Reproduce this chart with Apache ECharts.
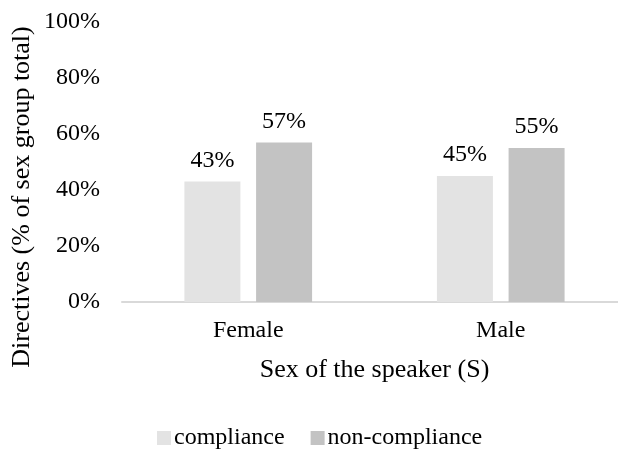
<!DOCTYPE html>
<html>
<head>
<meta charset="utf-8">
<script src="https://cdn.jsdelivr.net/npm/echarts@6/dist/echarts.min.js"></script>
<style>
  html, body { margin: 0; padding: 0; background: #fff; overflow: hidden; }
  #chart { width: 628px; height: 450px; }
</style>
</head>
<body>
<div id="chart"></div>
<script>
const categories = ['Female', 'Male'];
const compliance = [43, 45];
const nonCompliance = [57, 55];
const yTicks = [0, 20, 40, 60, 80, 100];

const chart = echarts.init(document.getElementById('chart'));
const font = 'Liberation Serif, Times New Roman, serif';

chart.setOption({
  backgroundColor: '#fff',
  animation: false,
  textStyle: { fontFamily: font },
  // the axis runs a little past the right edge of the picture, as in the original
  grid: { left: 122, right: 1, top: 22, height: 280, containLabel: false },
  graphic: [{
    type: 'text',
    x: 22,
    y: 197,
    rotation: Math.PI / 2,
    style: {
      text: 'Directives (% of sex group total)',
      font: '26px ' + font,
      fill: '#000',
      align: 'center',
      verticalAlign: 'middle'
    }
  }],
  legend: {
    top: 421,
    left: 152,
    itemWidth: 14,
    itemHeight: 14,
    itemGap: 26,
    icon: 'rect',
    textStyle: { fontFamily: font, fontSize: 24, color: '#000', padding: [0, 0, 0, -2] },
    data: ['compliance', 'non-compliance']
  },
  xAxis: {
    type: 'category',
    data: categories,
    name: 'Sex of the speaker (S)',
    nameLocation: 'middle',
    nameGap: 55,
    nameTextStyle: { fontFamily: font, fontSize: 26, color: '#000' },
    axisLine: { lineStyle: { color: '#d9d9d9', width: 2 } },
    axisTick: { show: false },
    axisLabel: { fontFamily: font, fontSize: 24, color: '#000', margin: 17 }
  },
  yAxis: {
    type: 'value',
    min: 0,
    max: 100,
    interval: 20,
    axisLine: { show: false },
    axisTick: { show: false },
    splitLine: { show: false },
    axisLabel: {
      fontFamily: font, fontSize: 24, color: '#000', margin: 22,
      formatter: v => yTicks.includes(v) ? v + '%' : ''
    }
  },
  series: [
    {
      name: 'compliance',
      type: 'bar',
      data: compliance,
      barWidth: 56,
      barGap: '28%',
      itemStyle: { color: '#e3e3e3' },
      label: { show: true, position: 'top', distance: 9, formatter: '{c}%', fontFamily: font, fontSize: 24, color: '#000' }
    },
    {
      name: 'non-compliance',
      type: 'bar',
      data: nonCompliance,
      barWidth: 56,
      itemStyle: { color: '#c3c3c3' },
      label: { show: true, position: 'top', distance: 9, formatter: '{c}%', fontFamily: font, fontSize: 24, color: '#000' }
    }
  ]
});
</script>
</body>
</html>
